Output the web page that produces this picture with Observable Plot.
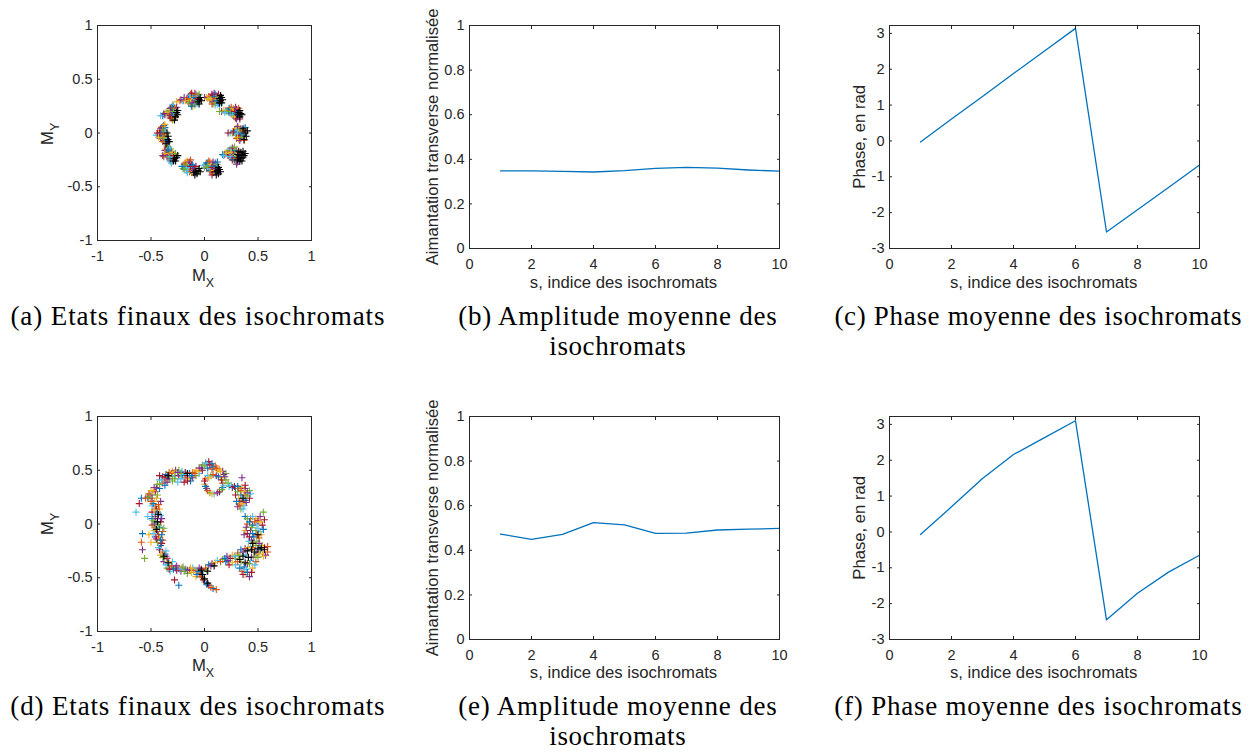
<!DOCTYPE html>
<html><head><meta charset="utf-8">
<script src="https://cdn.jsdelivr.net/npm/d3@7"></script>
<script src="https://cdn.jsdelivr.net/npm/@observablehq/plot@0.6"></script>
<style>
html,body{margin:0;padding:0;background:#fff;}
#root{position:relative;width:1257px;height:754px;overflow:hidden;background:#fff;}
#root > svg text{font-family:Arial,"Liberation Sans",Helvetica,sans-serif;font-size:14.5px;}
.ttl{position:absolute;width:400px;text-align:center;white-space:nowrap;font-family:Arial,"Liberation Sans",Helvetica,sans-serif;font-size:16.7px;line-height:20px;color:#262626;}
.ttl sub{font-size:12.5px;position:relative;top:6px;vertical-align:baseline;}
.cap{position:absolute;width:600px;text-align:center;white-space:nowrap;font-size:27px;line-height:30px;color:#000;}
</style></head><body><div id="root"></div>
<script>
// ---------------- DATA ----------------
const isoIndex = [1,2,3,4,5,6,7,8,9,10];
const ampB   = [0.348,0.348,0.346,0.343,0.349,0.359,0.364,0.360,0.352,0.347];
const phaseC = [-0.03,0.61,1.24,1.88,2.51,3.14,-2.54,-1.92,-1.30,-0.67];
const ampE   = [0.473,0.449,0.471,0.524,0.514,0.476,0.477,0.491,0.495,0.498];
const phaseF = [-0.07,0.70,1.49,2.16,2.63,3.10,-2.45,-1.71,-1.12,-0.65];

// (a) final states of isochromats : coloured series
const scatterA = [
 [-0.15,0.33],[-0.13,0.36],[-0.11,0.35],[-0.09,0.37],[-0.14,0.30],[-0.12,0.32],[-0.10,0.30],[-0.08,0.33],[-0.13,0.27],[-0.11,0.25],[-0.09,0.28],[-0.07,0.30],[-0.06,0.35],[-0.17,0.31],[-0.20,0.30],[-0.23,0.30],[-0.26,0.29],[-0.19,0.33],[-0.15,0.28],
 [-0.14,0.35],[-0.12,0.37],[-0.10,0.33],[-0.08,0.36],[-0.13,0.31],[-0.11,0.28],[-0.09,0.26],[-0.07,0.27],[-0.06,0.32],[-0.12,0.25],[-0.16,0.32],[-0.18,0.30],[-0.22,0.31],[-0.05,0.36],
 [0.06,0.33],[0.08,0.35],[0.10,0.36],[0.07,0.30],[0.09,0.32],[0.11,0.30],[0.08,0.27],[0.10,0.26],[0.12,0.34],[0.13,0.28],[0.04,0.34],[0.02,0.33],[0.00,0.33],[0.05,0.31],[0.11,0.35],
 [0.07,0.36],[0.09,0.34],[0.11,0.32],[0.06,0.31],[0.08,0.29],[0.10,0.28],[0.12,0.27],[0.13,0.36],[0.12,0.30],[0.07,0.27],[0.03,0.32],[0.09,0.37],[0.13,0.33],[0.14,0.26],
 [0.22,0.21],[0.24,0.22],[0.26,0.20],[0.28,0.22],[0.25,0.18],[0.27,0.16],[0.29,0.19],[0.30,0.22],[0.23,0.19],[0.20,0.21],[0.18,0.21],[0.16,0.20],[0.14,0.20],[0.31,0.15],[0.29,0.14],
 [0.23,0.23],[0.25,0.24],[0.27,0.23],[0.29,0.24],[0.24,0.20],[0.26,0.17],[0.28,0.20],[0.30,0.18],[0.32,0.23],[0.28,0.15],[0.30,0.13],[0.21,0.20],[0.19,0.19],[0.33,0.13],
 [0.28,0.02],[0.30,0.04],[0.32,0.05],[0.34,0.04],[0.29,-0.02],[0.31,0.00],[0.33,-0.03],[0.35,0.01],[0.30,-0.05],[0.32,-0.06],[0.34,-0.05],[0.26,0.00],[0.24,0.00],[0.22,0.00],[0.36,-0.02],[0.37,0.03],
 [0.29,0.04],[0.31,0.06],[0.33,0.03],[0.30,0.01],[0.32,-0.02],[0.34,-0.01],[0.36,0.02],[0.31,-0.04],[0.33,-0.07],[0.35,-0.04],[0.29,0.00],[0.27,0.01],[0.38,0.05],[0.37,-0.07],
 [0.21,-0.18],[0.23,-0.17],[0.25,-0.16],[0.27,-0.15],[0.22,-0.21],[0.24,-0.20],[0.26,-0.19],[0.28,-0.18],[0.25,-0.23],[0.27,-0.24],[0.29,-0.22],[0.19,-0.20],[0.17,-0.20],[0.30,-0.16],[0.29,-0.26],[0.31,-0.27],
 [0.22,-0.16],[0.24,-0.15],[0.26,-0.14],[0.28,-0.16],[0.23,-0.19],[0.25,-0.18],[0.27,-0.20],[0.29,-0.20],[0.24,-0.22],[0.26,-0.25],[0.28,-0.25],[0.30,-0.24],[0.20,-0.19],[0.30,-0.29],[0.28,-0.13],[0.18,-0.21],
 [0.01,-0.30],[0.03,-0.28],[0.05,-0.27],[0.07,-0.28],[0.02,-0.33],[0.04,-0.32],[0.06,-0.31],[0.08,-0.30],[0.05,-0.35],[0.07,-0.34],[0.09,-0.33],[0.10,-0.28],[0.00,-0.32],[0.11,-0.31],[0.08,-0.37],
 [0.02,-0.28],[0.04,-0.26],[0.06,-0.29],[0.08,-0.27],[0.03,-0.31],[0.05,-0.33],[0.07,-0.32],[0.09,-0.31],[0.06,-0.36],[0.09,-0.35],[0.10,-0.33],[0.12,-0.29],[-0.01,-0.30],[0.07,-0.39],[0.12,-0.27],
 [-0.19,-0.29],[-0.17,-0.27],[-0.15,-0.28],[-0.18,-0.32],[-0.16,-0.31],[-0.14,-0.30],[-0.12,-0.32],[-0.15,-0.34],[-0.13,-0.35],[-0.11,-0.34],[-0.20,-0.33],[-0.17,-0.35],[-0.09,-0.33],[-0.12,-0.29],
 [-0.18,-0.28],[-0.16,-0.26],[-0.14,-0.27],[-0.17,-0.30],[-0.15,-0.32],[-0.13,-0.31],[-0.11,-0.30],[-0.14,-0.36],[-0.12,-0.37],[-0.10,-0.35],[-0.19,-0.34],[-0.16,-0.37],[-0.08,-0.31],[-0.21,-0.31],[-0.13,-0.25],
 [-0.36,-0.14],[-0.34,-0.13],[-0.32,-0.15],[-0.35,-0.17],[-0.33,-0.18],[-0.31,-0.17],[-0.36,-0.20],[-0.34,-0.21],[-0.32,-0.21],[-0.30,-0.20],[-0.33,-0.24],[-0.31,-0.24],[-0.29,-0.23],[-0.38,-0.22],[-0.27,-0.21],[-0.36,-0.16],
 [-0.35,-0.12],[-0.33,-0.14],[-0.37,-0.16],[-0.34,-0.16],[-0.32,-0.19],[-0.30,-0.18],[-0.35,-0.22],[-0.33,-0.22],[-0.31,-0.22],[-0.29,-0.21],[-0.32,-0.26],[-0.30,-0.26],[-0.37,-0.19],[-0.39,-0.21],[-0.27,-0.19],[-0.31,-0.28],
 [-0.40,0.05],[-0.38,0.07],[-0.42,0.02],[-0.40,0.01],[-0.38,0.03],[-0.36,0.01],[-0.43,-0.02],[-0.41,-0.03],[-0.39,-0.02],[-0.37,-0.03],[-0.40,-0.06],[-0.38,-0.07],[-0.36,-0.06],[-0.45,-0.02],[-0.35,-0.09],[-0.37,0.05],
 [-0.39,0.06],[-0.37,0.08],[-0.41,0.04],[-0.39,0.03],[-0.37,0.01],[-0.42,0.00],[-0.40,-0.01],[-0.38,-0.01],[-0.36,-0.04],[-0.41,-0.05],[-0.39,-0.05],[-0.37,-0.08],[-0.44,0.00],[-0.35,-0.07],[-0.39,-0.08],[-0.43,-0.04],
 [-0.31,0.24],[-0.29,0.25],[-0.33,0.21],[-0.31,0.21],[-0.29,0.22],[-0.27,0.21],[-0.34,0.18],[-0.32,0.18],[-0.30,0.18],[-0.28,0.17],[-0.37,0.17],[-0.39,0.16],[-0.31,0.14],[-0.29,0.13],[-0.26,0.24],[-0.35,0.20],
 [-0.30,0.26],[-0.32,0.23],[-0.30,0.23],[-0.28,0.23],[-0.33,0.19],[-0.31,0.19],[-0.29,0.20],[-0.27,0.19],[-0.33,0.16],[-0.30,0.16],[-0.28,0.15],[-0.36,0.19],[-0.38,0.18],[-0.30,0.12],[-0.41,0.16],[-0.32,0.14]
];
// (a) last series (black)
const scatterABlack = [
 [-0.05,0.31],[-0.04,0.33],[-0.06,0.29],[-0.03,0.30],[-0.05,0.27],
 [0.14,0.32],[0.15,0.30],[0.16,0.33],[0.15,0.35],[0.17,0.31],[0.14,0.28],[0.16,0.28],
 [0.32,0.19],[0.33,0.21],[0.34,0.18],[0.33,0.15],[0.35,0.17],[0.31,0.17],
 [0.38,0.00],[0.39,-0.03],[0.37,-0.06],[0.40,0.02],[0.36,0.04],
 [0.31,-0.20],[0.33,-0.21],[0.35,-0.20],[0.37,-0.21],[0.32,-0.23],[0.34,-0.24],[0.36,-0.23],[0.33,-0.26],[0.35,-0.26],[0.31,-0.25],[0.34,-0.18],[0.36,-0.17],[0.38,-0.19],[0.32,-0.17],
 [0.10,-0.36],[0.12,-0.35],[0.13,-0.38],[0.11,-0.39],[0.14,-0.34],[0.13,-0.32],[0.15,-0.36],
 [-0.08,-0.36],[-0.06,-0.35],[-0.07,-0.38],[-0.10,-0.37],[-0.05,-0.33],[-0.09,-0.39],[-0.04,-0.36],
 [-0.28,-0.24],[-0.26,-0.23],[-0.25,-0.21],[-0.27,-0.26],[-0.29,-0.26],
 [-0.34,-0.03],[-0.34,-0.06],[-0.35,0.00],[-0.33,-0.08],[-0.36,-0.10],
 [-0.26,0.19],[-0.25,0.17],[-0.27,0.15],[-0.25,0.21],[-0.28,0.12]
];
// (d) final states of isochromats : coloured series
const scatterD = [
 [-0.53,0.25],[-0.52,0.28],[-0.50,0.31],[-0.47,0.34],[-0.44,0.37],[-0.42,0.41],[-0.39,0.44],[-0.36,0.46],[-0.33,0.48],[-0.30,0.49],[-0.27,0.50],[-0.24,0.50],[-0.21,0.49],[-0.18,0.48],[-0.14,0.47],[-0.11,0.48],[-0.08,0.50],[-0.05,0.52],[-0.02,0.55],[0.01,0.57],[0.04,0.58],[0.07,0.56],[0.10,0.54],[0.14,0.51],[0.17,0.49],[0.20,0.47],
 [-0.49,0.27],[-0.46,0.30],[-0.42,0.33],[-0.39,0.38],[-0.36,0.41],[-0.33,0.42],[-0.30,0.44],[-0.27,0.45],[-0.24,0.45],[-0.21,0.45],[-0.18,0.43],[-0.14,0.42],[-0.11,0.43],[-0.08,0.45],[-0.05,0.47],[-0.02,0.50],[0.03,0.52],[0.07,0.51],[0.12,0.50],[-0.35,0.39],[-0.30,0.40],[-0.25,0.39],[-0.19,0.39],[-0.13,0.40],
 [-0.51,0.27],[-0.48,0.31],[-0.45,0.34],[-0.42,0.37],[-0.40,0.41],[-0.37,0.43],[-0.34,0.45],[-0.31,0.47],[-0.28,0.48],[-0.25,0.48],[-0.22,0.47],[-0.19,0.46],[-0.16,0.45],[-0.12,0.45],[-0.09,0.47],[-0.06,0.49],[-0.03,0.52],[0.00,0.54],[0.02,0.56],[0.05,0.55],[0.08,0.53],[0.11,0.52],[0.15,0.49],[0.18,0.46],[-0.28,0.42],[-0.22,0.42],[-0.16,0.40],[-0.37,0.36],
 [0.01,0.42],[0.00,0.37],[0.02,0.33],[0.05,0.29],[0.09,0.28],[0.14,0.30],[0.17,0.34],[0.17,0.38],[0.15,0.43],[0.11,0.45],[0.06,0.45],[0.03,0.45],
 [0.00,0.40],[0.01,0.35],[0.03,0.31],[0.07,0.28],[0.12,0.29],[0.16,0.32],[0.18,0.36],[0.16,0.41],[0.13,0.44],[0.08,0.46],[0.04,0.43],[0.19,0.44],
 [0.20,0.41],[0.23,0.35],[0.26,0.34],[0.29,0.33],[0.32,0.33],[0.35,0.34],[0.38,0.33],[0.42,0.31],[0.43,0.28],[0.42,0.24],[0.38,0.22],[0.35,0.21],[0.32,0.19],[0.31,0.16],[0.34,0.14],[0.37,0.17],[0.29,0.27],[0.34,0.27],[0.38,0.27],[0.32,0.24],[0.35,0.43],
 [0.22,0.38],[0.25,0.36],[0.28,0.35],[0.31,0.35],[0.34,0.31],[0.37,0.30],[0.40,0.29],[0.40,0.26],[0.36,0.24],[0.33,0.21],[0.30,0.21],[0.33,0.17],[0.36,0.19],[0.39,0.20],[0.31,0.30],[0.36,0.14],[0.38,0.36],
 [0.38,0.07],[0.43,0.05],[0.48,0.05],[0.52,0.07],[0.55,0.11],[0.49,0.00],[0.54,-0.01],[0.45,-0.01],[0.40,0.00],[0.38,-0.06],[0.43,-0.06],[0.48,-0.06],[0.52,-0.07],[0.42,-0.12],[0.46,-0.12],[0.51,-0.13],[0.46,-0.17],[0.37,-0.10],
 [0.40,0.05],[0.45,0.07],[0.50,0.03],[0.42,0.02],[0.47,0.02],[0.52,0.02],[0.39,-0.03],[0.44,-0.03],[0.50,-0.04],[0.40,-0.09],[0.45,-0.09],[0.49,-0.10],[0.53,-0.10],[0.44,-0.15],[0.49,-0.16],[0.41,-0.16],[0.56,0.04],[0.55,-0.05],
 [0.59,-0.21],[0.54,-0.20],[0.51,-0.18],[0.48,-0.20],[0.43,-0.21],[0.38,-0.23],[0.34,-0.24],[0.31,-0.27],[0.26,-0.29],[0.21,-0.30],[0.17,-0.33],[0.12,-0.34],[0.07,-0.37],[0.04,-0.38],[0.01,-0.41],[-0.02,-0.44],[-0.04,-0.47],[-0.02,-0.50],[0.00,-0.54],[0.04,-0.57],[0.08,-0.60],[0.11,-0.61],
 [0.54,-0.26],[0.49,-0.27],[0.46,-0.30],[0.43,-0.34],[0.40,-0.37],[0.37,-0.40],[0.35,-0.44],[0.38,-0.47],[0.42,-0.49],[0.34,-0.35],[0.29,-0.38],[0.23,-0.38],[0.20,-0.35],[0.48,-0.35],[0.45,-0.41],[0.57,-0.29],[0.29,-0.32],[0.38,-0.29],
 [0.56,-0.22],[0.52,-0.24],[0.45,-0.22],[0.41,-0.22],[0.36,-0.26],[0.32,-0.29],[0.28,-0.30],[0.24,-0.32],[0.19,-0.32],[0.15,-0.35],[0.10,-0.36],[0.06,-0.39],[0.02,-0.43],[-0.01,-0.47],[-0.01,-0.52],[0.02,-0.56],[0.06,-0.59],[0.51,-0.28],[0.44,-0.31],[0.42,-0.37],[0.39,-0.42],[0.36,-0.47],[0.40,-0.45],[0.31,-0.35],[0.26,-0.36],[0.22,-0.34],[0.50,-0.31],[0.47,-0.38],[0.44,-0.45],[0.33,-0.41],[0.59,-0.26],[0.55,-0.30],
 [-0.05,-0.41],[-0.08,-0.43],[-0.11,-0.41],[-0.14,-0.43],[-0.18,-0.42],[-0.21,-0.41],[-0.24,-0.41],[-0.27,-0.41],[-0.30,-0.40],[-0.33,-0.37],[-0.35,-0.32],[-0.37,-0.28],[-0.39,-0.26],[-0.41,-0.29],[-0.38,-0.35],[-0.35,-0.41],[-0.32,-0.44],[-0.28,-0.52],[-0.24,-0.57],[-0.05,-0.46],[-0.08,-0.49],[-0.22,-0.44],[-0.16,-0.46],[-0.30,-0.35],
 [-0.03,-0.42],[-0.06,-0.44],[-0.10,-0.43],[-0.13,-0.41],[-0.16,-0.43],[-0.19,-0.44],[-0.23,-0.42],[-0.26,-0.43],[-0.29,-0.42],[-0.31,-0.39],[-0.34,-0.35],[-0.36,-0.30],[-0.39,-0.31],[-0.36,-0.38],[-0.33,-0.42],[-0.07,-0.47],[-0.03,-0.49],[-0.12,-0.45],[-0.26,-0.39],[-0.20,-0.40],[-0.36,-0.25],
 [-0.42,-0.24],[-0.41,-0.20],[-0.39,-0.15],[-0.42,-0.12],[-0.44,-0.07],[-0.46,-0.03],[-0.46,0.02],[-0.46,0.07],[-0.44,0.11],[-0.46,0.16],[-0.47,0.21],[-0.49,0.24],[-0.52,0.25],[-0.49,0.17],[-0.49,0.11],[-0.49,0.05],[-0.49,-0.01],[-0.47,-0.06],[-0.46,-0.12],[-0.44,-0.17],[-0.41,0.08],[-0.41,0.02],[-0.42,-0.03],[-0.39,-0.07],[-0.42,0.14],[-0.41,0.21],[-0.44,0.27],
 [-0.43,-0.22],[-0.40,-0.18],[-0.41,-0.15],[-0.43,-0.10],[-0.45,-0.05],[-0.47,0.00],[-0.48,0.03],[-0.47,0.09],[-0.45,0.14],[-0.48,0.19],[-0.50,0.21],[-0.47,0.13],[-0.44,0.05],[-0.43,-0.01],[-0.48,-0.09],[-0.45,-0.14],[-0.40,-0.10],[-0.43,0.18],[-0.45,0.24],[-0.40,0.05],[-0.38,-0.04],
 [-0.64,0.11],[-0.61,0.19],[-0.58,-0.09],[-0.59,-0.17],[-0.50,-0.17],[-0.58,-0.24],[-0.56,-0.32],[-0.53,0.07],[-0.42,0.45],[-0.59,0.24],[-0.55,0.24],[-0.52,-0.10]
];
const scatterDBlack = [
 [0.40,-0.25],[0.44,-0.24],[0.50,-0.23],[0.53,-0.22],[0.36,-0.30],[0.41,-0.31],[0.33,-0.33],[0.38,-0.36],[0.56,-0.24],[0.47,-0.26],
 [-0.44,0.02],[-0.45,-0.05],[-0.43,0.09],[-0.02,-0.47],[0.00,-0.51],[-0.03,-0.43],[0.03,-0.55],[-0.38,-0.30],[-0.34,-0.36],
 [0.45,-0.18],[0.50,-0.10],[0.36,0.24],[-0.34,0.45],[-0.16,0.47],[0.03,-0.44],[0.09,-0.39]
];

const ticksUnit  = [-1,-0.5,0,0.5,1];
const ticksS     = [0,2,4,6,8,10];
const ticksAmp   = [0,0.2,0.4,0.6,0.8,1];
const ticksPhase = [-3,-2,-1,0,1,2,3];
const seriesColors = ["#0072BD","#D95319","#EDB120","#7E2F8E","#77AC30","#4DBEEE","#A2142F"];

const labelMX = ["M","X"], labelMY = ["M","Y"];
const labelS = "s, indice des isochromats";
const labelAmp = "Aimantation transverse normalisée";
const labelPhase = "Phase, en rad";
const capA = ["(a) Etats finaux des isochromats"];
const capB = ["(b) Amplitude moyenne des","isochromats"];
const capC = ["(c) Phase moyenne des isochromats"];
const capD = ["(d) Etats finaux des isochromats"];
const capE = ["(e) Amplitude moyenne des","isochromats"];
const capF = ["(f) Phase moyenne des isochromats"];

// ---------------- RENDER ----------------
const AX = "#262626";
const root = document.getElementById("root");
const fmt = d => String(d);
const plusSymbol = {draw(ctx, size) {
  const r = Math.sqrt(size / Math.PI);
  ctx.moveTo(-r, 0); ctx.lineTo(r, 0); ctx.moveTo(0, -r); ctx.lineTo(0, r);
}};

function boxAxes(xt, yt) {
  return [
    Plot.axisX(xt, {anchor: "bottom", tickSize: 0, tickPadding: 10, tickFormat: fmt, label: null}),
    Plot.axisY(yt, {anchor: "left", tickSize: 0, tickPadding: 5, tickFormat: fmt, label: null}),
    Plot.axisX(xt, {anchor: "bottom", tickSize: -3, fill: "none", label: null}),
    Plot.axisX(xt, {anchor: "top", tickSize: -3, fill: "none", label: null}),
    Plot.axisY(yt, {anchor: "left", tickSize: -3, fill: "none", label: null}),
    Plot.axisY(yt, {anchor: "right", tickSize: -3, fill: "none", label: null}),
    Plot.frame({stroke: AX, strokeWidth: 1})
  ];
}

function place(svg, left, top) {
  svg.style.position = "absolute";
  svg.style.left = left + "px";
  svg.style.top = top + "px";
  root.appendChild(svg);
}

const baseStyle = {fontSize: "14.5px", fontFamily: "Arial, Helvetica, sans-serif", color: AX, background: "none", overflow: "visible"};

function scatterPanel(colored, black) {
  return Plot.plot({
    width: 330, height: 300,
    marginLeft: 97, marginRight: 19, marginTop: 25, marginBottom: 60,
    x: {domain: [-1, 1]}, y: {domain: [-1, 1]},
    color: {type: "identity"},
    style: baseStyle,
    marks: [
      Plot.dot(colored, {x: d => d[0], y: d => d[1], symbol: plusSymbol, r: 3.5, fill: "none",
        stroke: (d, i) => seriesColors[i % seriesColors.length], strokeWidth: 1.1}),
      Plot.dot(black, {x: d => d[0], y: d => d[1], symbol: plusSymbol, r: 3.5, fill: "none", stroke: "#000", strokeWidth: 1.1}),
      ...boxAxes(ticksUnit, ticksUnit)
    ]
  });
}

function linePanel(values, yDomain, yTicks, width, marginLeft, marginRight) {
  return Plot.plot({
    width, height: 300,
    marginLeft, marginRight, marginTop: 25, marginBottom: 52,
    x: {domain: [0, 10]}, y: {domain: yDomain},
    style: baseStyle,
    marks: [
      Plot.line(isoIndex.map((s, i) => ({s, v: values[i]})), {x: "s", y: "v", stroke: "#0072BD", strokeWidth: 1.3}),
      ...boxAxes(ticksS, yTicks)
    ]
  });
}

place(scatterPanel(scatterA, scatterABlack), 0, 0);
place(linePanel(ampB, [0, 1], ticksAmp, 380, 49, 21), 420, 0);
place(linePanel(phaseC, [-3, 3.22], ticksPhase, 400, 52, 38), 837, 0);
place(scatterPanel(scatterD, scatterDBlack), 0, 391);
place(linePanel(ampE, [0, 1], ticksAmp, 380, 49, 21), 420, 391);
place(linePanel(phaseF, [-3, 3.22], ticksPhase, 400, 52, 38), 837, 391);

// ---------------- TEXT (HTML) ----------------
function axisTitle(x, y, parts, rotate) {
  const d = document.createElement("div");
  d.className = "ttl";
  d.style.left = (x - 200) + "px";
  d.style.top = (y - 15.8) + "px";
  d.textContent = parts[0];
  if (parts[1]) { const s = document.createElement("sub"); s.textContent = parts[1]; d.appendChild(s); }
  if (rotate) { d.style.transformOrigin = "200px 15.8px"; d.style.transform = "rotate(-90deg)"; }
  root.appendChild(d);
}
const capFont = "27px 'Liberation Serif', 'Times New Roman', serif";
const mctx = document.createElement("canvas").getContext("2d");
mctx.font = capFont;
function caption(x, y, lines, lens) {
  lines.forEach((line, k) => {
    const d = document.createElement("div");
    d.className = "cap";
    d.style.font = capFont;
    d.style.lineHeight = "30px";
    d.style.left = (x - 300) + "px";
    d.style.top = (y - 24.1 + 30 * k) + "px";
    const w = mctx.measureText(line).width;
    const ls = (lens[k] - w) / line.length;
    d.style.letterSpacing = ls.toFixed(2) + "px";
    d.style.textIndent = ls.toFixed(2) + "px";
    d.textContent = line;
    root.appendChild(d);
  });
}

[0, 390].forEach(dy => {
  axisTitle(203, 281.7 + dy, labelMX);
  axisTitle(54, 134 + dy, labelMY, true);
  axisTitle(439, 136.5 + dy + (dy ? 1.5 : 0), [labelAmp], true);
  axisTitle(623.5, 288.5 + dy, [labelS]);
  axisTitle(865.7, 136.6 + dy + (dy ? 1.5 : 0), [labelPhase], true);
  axisTitle(1043.7, 288.7 + dy, [labelS]);
});

caption(197.5, 325, capA, [375]);
caption(617.5, 325, capB, [321, 137]);
caption(1038, 325, capC, [408]);
caption(197.5, 715, capD, [375]);
caption(617.5, 715, capE, [321, 137]);
caption(1038, 715, capF, [408]);
</script></body></html>
